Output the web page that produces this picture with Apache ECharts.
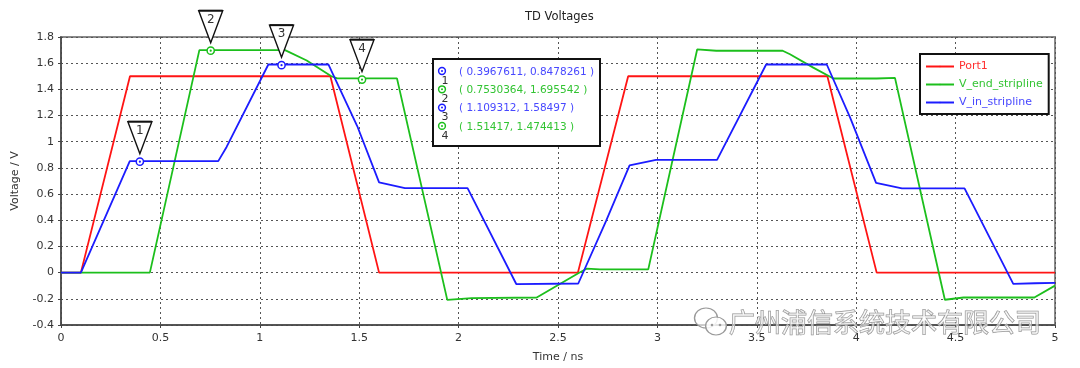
<!DOCTYPE html>
<html>
<head>
<meta charset="utf-8">
<script src="https://cdn.jsdelivr.net/npm/echarts@6/dist/echarts.min.js"></script>
<style>
html,body{margin:0;padding:0;background:#fff;}
#chart{width:1080px;height:368px;}
</style>
</head>
<body>
<div id="chart"></div>
<script>
// ---- Data ----
const seriesNames = ['Port1', 'V_end_stripline', 'V_in_stripline'];
const seriesColors = ['#ff1414', '#1cbf1c', '#1c1cff'];
const seriesTextColors = ['#ff3030', '#33c433', '#4848ff'];

const port1 = [[0,0],[0.1,0],[0.347,1.5],[1.355,1.5],[1.6,0],[2.6,0],[2.853,1.5],[3.855,1.5],[4.103,0],[5,0]];

const vEndStripline = [[0,0],[0.447,0],[0.696,1.70],[1.127,1.70],[1.236,1.62],[1.36,1.50],[1.39,1.484],[1.69,1.484],
  [1.943,-0.208],[2.066,-0.195],[2.393,-0.19],[2.602,-0.005],[2.644,0.03],[2.711,0.025],[2.954,0.025],
  [3.2,1.705],[3.296,1.695],[3.63,1.695],[3.667,1.668],[3.784,1.566],[3.885,1.483],[4.103,1.483],[4.11,1.488],[4.195,1.488],
  [4.446,-0.207],[4.54,-0.19],[4.896,-0.19],[5,-0.099]];

const vInStripline = [[0,0],[0.1,0],[0.346,0.852],[0.791,0.852],[0.833,0.96],[1.043,1.59],[1.345,1.59],[1.49,1.12],
  [1.6,0.69],[1.73,0.645],[2.045,0.645],[2.29,-0.087],[2.602,-0.083],[2.742,0.395],[2.86,0.82],[2.993,0.862],
  [3.3,0.862],[3.547,1.59],[3.852,1.59],[3.969,1.186],[4.1,0.686],[4.23,0.643],[4.545,0.643],[4.79,-0.086],[4.9,-0.081],[5,-0.078]];

// markers: x, y, series index, label
const markerX = [0.3967611, 0.7530364, 1.109312, 1.51417];
const markerY = [0.8478261, 1.695542, 1.58497, 1.474413];
const markerSeriesIdx = [2, 1, 2, 1];
const markerLabels = ['1', '2', '3', '4'];
const markerXText = ['0.3967611', '0.7530364', '1.109312', '1.51417'];
const markerYText = ['0.8478261', '1.695542', '1.58497', '1.474413'];

const xTicks = { min: 0, max: 5, interval: 0.5 };
const yTicks = { min: -0.4, max: 1.8, interval: 0.2 };

const FONT = 'DejaVu Sans';

// ---- Chart ----
const chart = echarts.init(document.getElementById('chart'), null, {renderer: 'canvas'});

const markerData = markerX.map((x, i) => [x, markerY[i], markerSeriesIdx[i], markerLabels[i]]);

function renderMarker(params, api) {
  const p = api.coord([api.value(0), api.value(1)]);
  const c = seriesColors[api.value(2)];
  const lbl = markerLabels[params.dataIndex];
  return {
    type: 'group',
    children: [
      { type: 'polygon', shape: { points: [[p[0]-12, p[1]-40], [p[0]+12, p[1]-40], [p[0], p[1]-8]] },
        style: { fill: '#fff', stroke: '#111', lineWidth: 1.4 } },
      { type: 'line', shape: { x1: p[0]-12, y1: p[1]-40, x2: p[0]+12, y2: p[1]-40 },
        style: { stroke: '#111', lineWidth: 2 } },
      { type: 'text', x: p[0], y: p[1]-31,
        style: { text: lbl, fill: '#333', font: '12px ' + FONT, align: 'center', verticalAlign: 'middle' } },
      { type: 'circle', shape: { cx: p[0], cy: p[1], r: 3.6 }, style: { fill: '#fff', stroke: c, lineWidth: 1.5 } },
      { type: 'circle', shape: { cx: p[0], cy: p[1], r: 1.1 }, style: { fill: c } }
    ]
  };
}

// info box graphic
const boxX = 433, boxY = 59, rowH = 18.3;
const graphics = [
  { type: 'rect', z: 100, shape: { x: boxX, y: boxY, width: 167, height: 87 },
    style: { fill: '#fff', stroke: '#111', lineWidth: 2 } }
];
markerX.forEach((x, i) => {
  const cy = boxY + 13 + i * rowH;
  const c = seriesColors[markerSeriesIdx[i]];
  const tc = seriesTextColors[markerSeriesIdx[i]];
  graphics.push({ type: 'circle', z: 101, shape: { cx: boxX + 9, cy: cy - 1, r: 3.4 }, style: { fill: '#fff', stroke: c, lineWidth: 1.5 } });
  graphics.push({ type: 'circle', z: 102, shape: { cx: boxX + 9, cy: cy - 1, r: 1.0 }, style: { fill: c } });
  graphics.push({ type: 'text', z: 101, x: boxX + 12, y: cy + 9,
    style: { text: markerLabels[i], fill: '#333', font: '11px ' + FONT, align: 'center', verticalAlign: 'middle' } });
  graphics.push({ type: 'text', z: 101, x: boxX + 26, y: cy,
    style: { text: '( ' + markerXText[i] + ', ' + markerYText[i] + ' )', fill: tc, font: '10.5px ' + FONT, align: 'left', verticalAlign: 'middle' } });
});

// watermark
graphics.push(
  { type: 'circle', z: 110, shape: { cx: 0, cy: 0, r: 10 }, scaleX: 1.15, x: 706, y: 318,
    style: { fill: 'rgba(255,255,255,0.7)', stroke: '#9a9a9a', lineWidth: 1.2 } },
  { type: 'circle', z: 111, shape: { cx: 0, cy: 0, r: 9 }, scaleX: 1.15, x: 716, y: 326,
    style: { fill: 'rgba(255,255,255,0.85)', stroke: '#9a9a9a', lineWidth: 1.2 } },
  { type: 'circle', z: 112, shape: { cx: 712, cy: 325, r: 1.3 }, style: { fill: '#9a9a9a' } },
  { type: 'circle', z: 112, shape: { cx: 720, cy: 325, r: 1.3 }, style: { fill: '#9a9a9a' } },
  { type: 'text', z: 110, x: 729, y: 322,
    style: { text: '广州浦信系统技术有限公司', font: '26px "Noto Sans CJK SC"', fill: 'rgba(255,255,255,0.55)',
      stroke: '#8f8f8f', lineWidth: 1, align: 'left', verticalAlign: 'middle' } }
);

const option = {
  backgroundColor: '#fff',
  animation: false,
  title: {
    text: 'TD Voltages', left: 525, top: 11, padding: 0,
    textStyle: { fontFamily: FONT, fontSize: 11.5, fontWeight: 'normal', color: '#222' }
  },
  legend: {
    orient: 'vertical', left: 920, top: 54,
    padding: [6, 6, 5, 5],
    backgroundColor: '#fff', borderColor: '#111', borderWidth: 2,
    itemWidth: 28, itemHeight: 2, itemGap: 5,
    data: seriesNames.map((n, i) => ({ name: n, textStyle: { color: seriesTextColors[i] } })),
    textStyle: { fontFamily: FONT, fontSize: 11, lineHeight: 13 },
    z: 20
  },
  grid: {
    left: 61, right: 25, top: 37, bottom: 42,
    show: true, borderColor: '#8a8a8a', borderWidth: 2, backgroundColor: 'transparent'
  },
  xAxis: {
    type: 'value', min: xTicks.min, max: xTicks.max, interval: xTicks.interval,
    name: 'Time / ns', nameLocation: 'middle', nameGap: 27,
    nameTextStyle: { fontFamily: FONT, fontSize: 11, color: '#333' },
    axisLine: { show: true, onZero: false, lineStyle: { color: '#444', width: 1.5 } },
    axisTick: { show: true, length: 3, lineStyle: { color: '#444' } },
    axisLabel: { fontFamily: FONT, fontSize: 11, color: '#333', margin: 8 },
    splitLine: { show: true, lineStyle: { color: '#555', type: [2, 3], width: 1 } }
  },
  yAxis: {
    type: 'value', min: yTicks.min, max: yTicks.max, interval: yTicks.interval,
    name: 'Voltage / V', nameLocation: 'middle', nameGap: 40,
    nameTextStyle: { fontFamily: FONT, fontSize: 11, color: '#333' },
    axisLine: { show: true, onZero: false, lineStyle: { color: '#444', width: 1.5 } },
    axisTick: { show: true, length: 3, lineStyle: { color: '#444' } },
    axisLabel: { fontFamily: FONT, fontSize: 11, color: '#333', margin: 7 },
    splitLine: { show: true, lineStyle: { color: '#555', type: [2, 3], width: 1 } }
  },
  series: [
    { name: seriesNames[0], type: 'line', data: port1, symbol: 'none', color: seriesColors[0], lineStyle: { width: 1.8 } },
    { name: seriesNames[1], type: 'line', data: vEndStripline, symbol: 'none', color: seriesColors[1], lineStyle: { width: 1.8 } },
    { name: seriesNames[2], type: 'line', data: vInStripline, symbol: 'none', color: seriesColors[2], lineStyle: { width: 1.8 } },
    { name: 'markers', type: 'custom', data: markerData, renderItem: renderMarker, encode: { x: 0, y: 1 }, clip: false, z: 10 }
  ],
  graphic: graphics
};
chart.setOption(option);
</script>
</body>
</html>
